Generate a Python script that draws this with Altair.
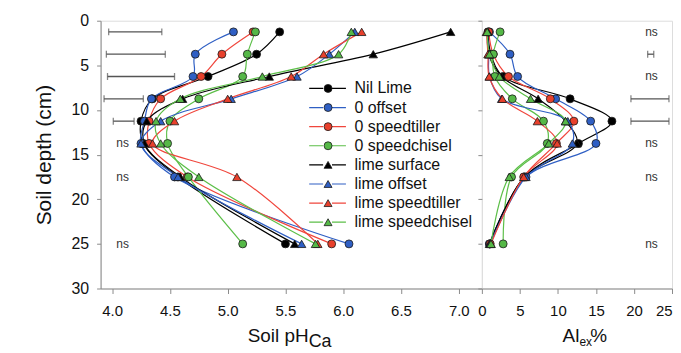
import altair as alt
import pandas as pd

FONT = "Liberation Sans"
GRAY = "#8a8a8a"

depths = [1.25, 3.75, 6.25, 8.75, 11.25, 13.75, 17.5, 25.0]
series_names = ["Nil Lime", "0 offset", "0 speedtiller", "0 speedchisel",
                "lime surface", "lime offset", "lime speedtiller", "lime speedchisel"]
circle_names = series_names[:4]
triangle_names = series_names[4:]

ph_nil_lime = [5.45, 5.25, 4.83, 4.35, 4.25, 4.27, 4.57, 5.50]
ph_0_offset = [5.05, 4.72, 4.70, 4.34, 4.28, 4.25, 4.54, 6.05]
ph_0_speedtiller = [5.22, 4.95, 4.77, 4.42, 4.32, 4.32, 4.65, 5.90]
ph_0_speedchisel = [5.24, 5.17, 5.13, 4.75, 4.50, 4.48, 4.66, 5.13]
ph_lime_surface = [6.93, 6.26, 5.36, 4.61, 4.30, 4.28, 4.59, 5.58]
ph_lime_offset = [6.10, 5.88, 5.60, 5.03, 4.42, 4.25, 4.57, 5.64]
ph_lime_speedtiller = [6.16, 5.83, 5.55, 5.00, 4.54, 4.35, 5.08, 5.78]
ph_lime_speedchisel = [6.07, 5.96, 5.30, 4.59, 4.38, 4.42, 4.75, 5.76]

al_nil_lime = [0.8, 1.2, 2.8, 11.6, 17.1, 12.7, 5.6, 1.0]
al_0_offset = [1.0, 3.7, 4.7, 9.7, 14.3, 15.0, 5.8, 1.0]
al_0_speedtiller = [0.9, 1.5, 3.5, 9.0, 12.1, 9.8, 5.5, 1.1]
al_0_speedchisel = [2.4, 1.5, 1.7, 4.0, 8.1, 8.6, 3.9, 2.8]
al_lime_surface = [0.8, 0.9, 2.6, 7.4, 11.0, 12.5, 5.6, 1.0]
al_lime_offset = [0.7, 0.9, 1.0, 2.6, 11.3, 11.9, 5.8, 1.1]
al_lime_speedtiller = [0.6, 0.8, 0.96, 2.7, 7.3, 9.9, 5.5, 1.2]
al_lime_speedchisel = [0.7, 1.0, 2.3, 6.4, 11.0, 8.8, 3.6, 1.2]

# LSD bars (pH panel)
eb_ph_depth = [1.25, 3.75, 6.25, 8.75, 11.25]
eb_ph_lo = [3.97, 3.95, 3.96, 3.93, 4.01]
eb_ph_hi = [4.43, 4.46, 4.54, 4.27, 4.19]
ns_ph_depth = [13.75, 17.5, 25.0]
ns_ph_x = 4.09

# LSD bars (Al panel)
eb_al_depth = [3.75, 8.75, 11.25]
eb_al_lo = [21.8, 19.6, 19.6]
eb_al_hi = [22.6, 24.6, 24.6]
ns_al_depth = [1.25, 6.25, 13.75, 17.5, 25.0]
ns_al_x = 22.3

ph_ticks = [4.0, 4.5, 5.0, 5.5, 6.0, 6.5, 7.0]
al_ticks = [0, 5, 10, 15, 20, 25]
depth_ticks = [0, 5, 10, 15, 20, 25, 30]

line_colors = ["#000000", "#2f5fc4", "#f0463c", "#5cbf48"] * 2
marker_colors = ["#000000", "#2f5fc4", "#e8402c", "#55b847"]

ph_lists = [ph_nil_lime, ph_0_offset, ph_0_speedtiller, ph_0_speedchisel,
            ph_lime_surface, ph_lime_offset, ph_lime_speedtiller, ph_lime_speedchisel]
al_lists = [al_nil_lime, al_0_offset, al_0_speedtiller, al_0_speedchisel,
            al_lime_surface, al_lime_offset, al_lime_speedtiller, al_lime_speedchisel]

rows = []
for name, ph, al in zip(series_names, ph_lists, al_lists):
    for d, p, a in zip(depths, ph, al):
        rows.append({"series": name, "depth": d, "ph": p, "al": a})
df = pd.DataFrame(rows)
df_c = df[df["series"].isin(circle_names)]
df_t = df[df["series"].isin(triangle_names)]

W_L, W_R, H = 383, 191, 269

yscale = alt.Scale(domain=[0, 30], reverse=True, nice=False, zero=False)
xs_ph = alt.Scale(domain=[3.9, 7.2], nice=False, zero=False)
xs_al = alt.Scale(domain=[0, 25], nice=False, zero=False)

axis_common = dict(grid=False, domainColor=GRAY, tickColor=GRAY, labelColor="#111111",
                   labelFont=FONT, titleFont=FONT, labelFlush=False)

ay_left = alt.Axis(values=depth_ticks, title="Soil depth (cm)", titleFontSize=21,
                   titleFontWeight="normal", titleColor="#111111", labelFontSize=16,
                   tickSize=4, labelPadding=8, titlePadding=17, **axis_common)
ay_right = alt.Axis(values=depth_ticks, labels=False, title=None, tickSize=4,
                    domain=False, **axis_common)
ax_ph = alt.Axis(values=ph_ticks, format=".1f", title=None, labelFontSize=15,
                 tickSize=5, labelPadding=10, **axis_common)
ax_al = alt.Axis(values=al_ticks, format="d", title=None, labelFontSize=15,
                 tickSize=5, labelPadding=10,
                 labelAlign={"condition": {"test": "datum.value >= 25", "value": "right"},
                             "value": "center"},
                 **axis_common)

LEG_X = 220
LEG_Y = 60
ROW = 19.2
line_legend = alt.Legend(orient="none", legendX=LEG_X, legendY=LEG_Y, title=None,
                         symbolType="M-4.35,0H-1.05M1.05,0H4.35", symbolSize=72,
                         symbolStrokeWidth=1.2,
                         labelFontSize=16, labelFont=FONT, labelColor="#111111",
                         labelOffset=19, rowPadding=3.2, padding=0)


def marker_legend(y):
    return alt.Legend(orient="none", legendX=LEG_X + 0.5, legendY=y, title=None,
                      symbolSize=64, symbolStrokeColor="#1a1a1a", symbolStrokeWidth=0.8,
                      symbolOpacity=1, labelFontSize=16, labelFont=FONT,
                      labelExpr="''", rowPadding=3.2, padding=0)


def panel(xfield, xscale, xaxis, yaxis, width, eb_depth, eb_lo, eb_hi,
          ns_depth, ns_x, legends, title_parts):
    X = alt.X(f"{xfield}:Q", scale=xscale, axis=xaxis)
    Y = alt.Y("depth:Q", scale=yscale, axis=yaxis)
    lines = alt.Chart(df).mark_line(interpolate="catmull-rom", strokeWidth=1.2).encode(
        x=X, y=Y,
        stroke=alt.Stroke("series:N", scale=alt.Scale(domain=series_names, range=line_colors),
                          legend=line_legend if legends else None),
        order=alt.Order("depth:Q"),
    )
    circles = alt.Chart(df_c).mark_point(filled=True, shape="circle", size=64, opacity=1,
                                         stroke="#1a1a1a", strokeWidth=0.8).encode(
        x=X, y=Y,
        color=alt.Color("series:N", scale=alt.Scale(domain=circle_names, range=marker_colors),
                        legend=marker_legend(LEG_Y) if legends else None),
    )
    triangles = alt.Chart(df_t).mark_point(filled=True, shape="triangle-up", size=72, opacity=1,
                                           stroke="#1a1a1a", strokeWidth=0.8).encode(
        x=X, y=Y,
        fill=alt.Fill("series:N", scale=alt.Scale(domain=triangle_names, range=marker_colors),
                      legend=marker_legend(LEG_Y + 4 * ROW) if legends else None),
    )
    eb = pd.DataFrame({"depth": eb_depth, "lo": eb_lo, "hi": eb_hi})
    rule = alt.Chart(eb).mark_rule(color="#555555", strokeWidth=1.3).encode(
        x=alt.X("lo:Q", scale=xscale, axis=xaxis), x2="hi:Q", y=Y)
    caps = alt.Chart(eb).transform_fold(["lo", "hi"], as_=["end", "val"]).mark_tick(
        orient="vertical", size=7, thickness=1.3, color="#555555").encode(
        x=alt.X("val:Q", scale=xscale, axis=xaxis), y=Y)
    ns = pd.DataFrame({"depth": ns_depth, "x": [ns_x] * len(ns_depth), "t": ["ns"] * len(ns_depth)})
    nstext = alt.Chart(ns).mark_text(fontSize=12, font=FONT, color="#333333").encode(
        x=alt.X("x:Q", scale=xscale, axis=xaxis), y=Y, text="t:N")
    layers = [lines, rule, caps, nstext, circles, triangles]
    for txt, px, py, size, align in title_parts:
        layers.append(alt.Chart(pd.DataFrame({"t": [txt]})).mark_text(
            font=FONT, fontSize=size, align=align, baseline="alphabetic", color="#111111").encode(
            x=alt.value(px), y=alt.value(py), text="t:N"))
    return alt.layer(*layers).properties(width=width, height=H)


left = panel("ph", xs_ph, ax_ph, ay_left, W_L, eb_ph_depth, eb_ph_lo, eb_ph_hi,
             ns_ph_depth, ns_ph_x, True,
             [("Soil pH", 209, 323, 19, "right"), ("Ca", 209, 328, 18, "left")])
right = panel("al", xs_al, ax_al, ay_right, W_R, eb_al_depth, eb_al_lo, eb_al_hi,
              ns_al_depth, ns_al_x, False,
              [("Al", 98, 323, 19, "right"), ("ex", 98, 327, 12, "left"), ("%", 109, 323, 19, "left")])

chart = alt.hconcat(left, right, spacing=0, bounds="flush").properties(
    padding={"left": 24, "top": 3, "right": 0, "bottom": 0}
).configure_view(stroke=GRAY, strokeWidth=1).configure(font=FONT)

chart.save("out.html", embed_options={"renderer": "svg", "actions": False})
